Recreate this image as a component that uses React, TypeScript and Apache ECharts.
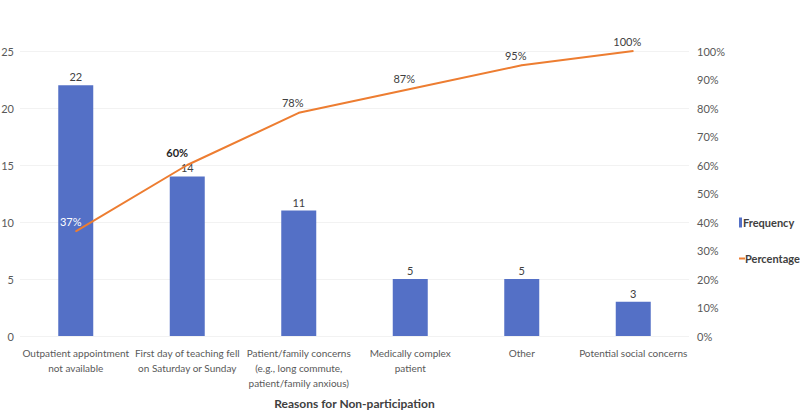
import React, { useEffect, useRef } from "react";
import * as echarts from "echarts";

const categories = [
  "Outpatient appointment\nnot available",
  "First day of teaching fell\non Saturday or Sunday",
  "Patient/family concerns\n(e.g., long commute,\npatient/family anxious)",
  "Medically complex\npatient",
  "Other",
  "Potential social concerns",
];
const frequency = [22, 14, 11, 5, 5, 3];
const percentage = [36.7, 60, 78.3, 86.7, 95, 100];

const FONT = "Lato";

export default function App() {
  const ref = useRef<HTMLDivElement>(null);
  useEffect(() => {
    if (!ref.current) return;
    const chart = echarts.init(ref.current, undefined, { renderer: "svg" });
    const lineData = percentage.map((v, i) => {
      if (i === 0) {
        return { value: v, label: { color: "#ffffff", offset: [-5, 0] } };
      }
      if (i === 1) {
        return { value: v, label: { color: "#262626", fontWeight: "bold", offset: [-10, -3] } };
      }
      return { value: v };
    });
    chart.setOption({
      animation: false,
      textStyle: { fontFamily: FONT },
      grid: { left: 20, right: 111, top: 51, bottom: 76, containLabel: false, outerBoundsMode: "none" },
      legend: [
        {
          data: ["Frequency"],
          orient: "vertical",
          left: 734,
          top: 212,
          icon: "rect",
          itemWidth: 3,
          itemHeight: 10,
          itemGap: 0,
          textStyle: { fontFamily: FONT, fontSize: 11, fontWeight: "bold", color: "#404040", padding: [0, 0, 0, -4] },
        },
        {
          data: ["Percentage"],
          orient: "vertical",
          left: 734,
          top: 248,
          icon: "rect",
          itemWidth: 6,
          itemHeight: 2,
          itemGap: 0,
          textStyle: { fontFamily: FONT, fontSize: 11, fontWeight: "bold", color: "#404040", padding: [0, 0, 0, -5] },
        },
      ],
      xAxis: {
        type: "category",
        data: categories,
        name: "Reasons for Non-participation",
        nameLocation: "middle",
        nameGap: 61,
        nameTextStyle: { fontFamily: FONT, fontSize: 12, fontWeight: "bold", color: "#404040" },
        axisLine: { show: false },
        axisTick: { show: false },
        axisLabel: {
          interval: 0,
          fontFamily: FONT,
          fontSize: 10,
          color: "#595959",
          lineHeight: 15,
          margin: 9,
        },
      },
      yAxis: [
        {
          type: "value",
          min: 0,
          max: 25,
          interval: 5,
          axisLine: { show: false },
          axisTick: { show: false },
          axisLabel: { fontFamily: FONT, fontSize: 11, color: "#595959", margin: 6 },
          splitLine: { lineStyle: { color: "#f2f2f2", width: 1 } },
        },
        {
          type: "value",
          min: 0,
          max: 100,
          interval: 10,
          position: "right",
          axisLine: { show: false },
          axisTick: { show: false },
          axisLabel: { fontFamily: FONT, fontSize: 11, color: "#595959", margin: 8, formatter: "{value}%" },
          splitLine: { show: false },
        },
      ],
      series: [
        {
          name: "Frequency",
          type: "bar",
          data: frequency,
          barWidth: 35,
          itemStyle: { color: "#5470C6" },
          label: { show: true, position: "top", distance: 3, fontFamily: FONT, fontSize: 11, color: "#404040" },
        },
        {
          name: "Percentage",
          type: "line",
          yAxisIndex: 1,
          data: lineData,
          symbol: "circle",
          symbolSize: 1,
          lineStyle: { color: "#ED7D31", width: 2 },
          itemStyle: { color: "#ED7D31" },
          label: {
            show: true,
            position: "top",
            distance: 4,
            offset: [-6, 0],
            fontFamily: FONT,
            fontSize: 11,
            color: "#404040",
            formatter: (p: any) => Math.round(p.value) + "%",
          },
        },
      ],
    });
    return () => chart.dispose();
  }, []);
  return <div ref={ref} style={{ position: "absolute", left: 0, top: 0, width: 800, height: 412 }} />;
}
